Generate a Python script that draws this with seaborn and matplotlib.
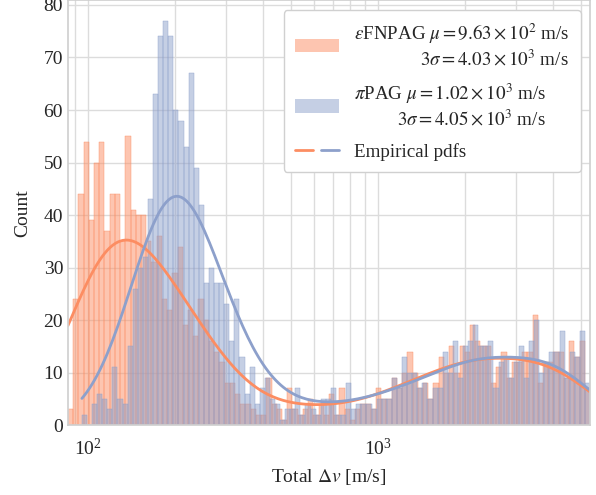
import numpy as np
import pandas as pd
import matplotlib
matplotlib.use("Agg")
import matplotlib.pyplot as plt
import seaborn as sns
from matplotlib.patches import Patch
from matplotlib.lines import Line2D
from matplotlib.legend_handler import HandlerTuple

# Histogram bin layout (log-spaced bins between the sample extremes)
n_bins = 100
efnpag_range = (85.3, 5380.0)
pipag_range = (95.3, 5380.0)

# Bin counts, epsilon-FNPAG
efnpag_counts = [
    3, 24, 44, 54, 39, 50, 54, 37, 44, 44,
    35, 55, 41, 40, 40, 35, 31, 36, 24, 22,
    29, 34, 19, 22, 17, 24, 20, 16, 14, 12,
    8, 8, 6, 4, 4, 3, 2, 2, 9, 4,
    3, 1, 7, 3, 2, 3, 5, 2, 4, 2,
    6, 2, 7, 3, 1, 3, 4, 4, 3, 7,
    5, 5, 9, 7, 10, 14, 10, 7, 8, 5,
    8, 13, 10, 15, 10, 15, 14, 19, 16, 15,
    15, 8, 11, 14, 9, 12, 12, 14, 14, 21,
    8, 12, 12, 14, 14, 9, 16, 13, 16, 7,
]

# Bin counts, pi-PAG
pipag_counts = [
    2, 0, 4, 6, 5, 3, 11, 5, 4, 15,
    26, 30, 32, 43, 63, 74, 77, 74, 60, 58,
    53, 67, 49, 42, 27, 30, 27, 27, 23, 16,
    24, 13, 6, 11, 4, 7, 9, 5, 4, 1,
    3, 3, 7, 2, 4, 3, 2, 5, 5, 7,
    2, 2, 8, 3, 4, 4, 4, 3, 5, 5,
    5, 9, 7, 13, 10, 10, 7, 8, 5, 7,
    7, 14, 10, 16, 9, 15, 16, 19, 15, 15,
    16, 7, 12, 13, 9, 12, 15, 9, 16, 20,
    10, 12, 14, 14, 18, 9, 14, 13, 18, 8,
]

efnpag_label = (r"$\varepsilon$FNPAG $\mu = 9.63\times10^{2}$ m/s" + "\n"
                + r"$3\sigma = 4.03\times10^{3}$ m/s")
pipag_label = (r"$\pi$PAG $\mu = 1.02\times10^{3}$ m/s" + "\n"
               + r"$3\sigma = 4.05\times10^{3}$ m/s")
pdf_label = "Empirical pdfs"
x_label = r"Total $\Delta v$ [m/s]"
y_label = "Count"

palette = sns.color_palette("Set2")
c_eps, c_pi = palette[1], palette[2]


def binned(counts, rng):
    """Bin centres weighted by count, plus zero-weight end points that
    pin the bin edges to the sample range."""
    lo, hi = rng
    edges = np.geomspace(lo, hi, n_bins + 1)
    centers = np.sqrt(edges[:-1] * edges[1:])
    x = np.concatenate([[lo], centers, [hi]])
    w = np.concatenate([[0.0], np.asarray(counts, float), [0.0]])
    return pd.DataFrame({"dv": x, "w": w})


sns.set_theme(style="whitegrid")
plt.rcParams["font.family"] = ["Liberation Serif", "DejaVu Serif"]
plt.rcParams["mathtext.fontset"] = "stix"
plt.rcParams["font.size"] = 14

fig = plt.figure(figsize=(5.96, 4.95), dpi=100)
ax = fig.add_axes([0.114, 0.141, 0.876, 0.858])

kde_kws = {"bw_adjust": 0.5}
for counts, rng, col in [(efnpag_counts, efnpag_range, c_eps),
                         (pipag_counts, pipag_range, c_pi)]:
    sns.histplot(data=binned(counts, rng), x="dv", weights="w",
                 bins=n_bins, log_scale=True, kde=True, kde_kws=kde_kws,
                 color=col, alpha=0.5, edgecolor=col, linewidth=0.3,
                 line_kws={"linewidth": 2}, ax=ax)

ax.set_xlim(efnpag_range[0], max(efnpag_range[1], pipag_range[1]))
ax.grid(True, which="both", axis="x", color="#dcdcdc", linewidth=1)
ax.grid(True, which="major", axis="y", color="#dcdcdc", linewidth=1)
ax.set_axisbelow(True)
for s in ax.spines.values():
    s.set_color("#d0d0d0")
ax.tick_params(labelsize=14, length=0)
ax.tick_params(axis="x", pad=9)
ax.set_xlabel(x_label, fontsize=14, labelpad=6)
ax.set_ylabel(y_label, fontsize=14, labelpad=9)

handles = [
    Patch(facecolor=c_eps, alpha=0.5, edgecolor="none"),
    Patch(facecolor=c_pi, alpha=0.5, edgecolor="none"),
    (Line2D([], [], color=c_eps, lw=2), Line2D([], [], color=c_pi, lw=2)),
]
leg = ax.legend(handles, [efnpag_label, pipag_label, pdf_label],
                loc="upper right", fontsize=13.7, handlelength=2.3,
                labelspacing=0.68, borderpad=0.6,
                handler_map={tuple: HandlerTuple(ndivide=None, pad=0.4)},
                frameon=True, framealpha=1, edgecolor="#d0d0d0")
for t in leg.get_texts():
    t.set_multialignment("right")

fig.savefig("out.png", dpi=100)
